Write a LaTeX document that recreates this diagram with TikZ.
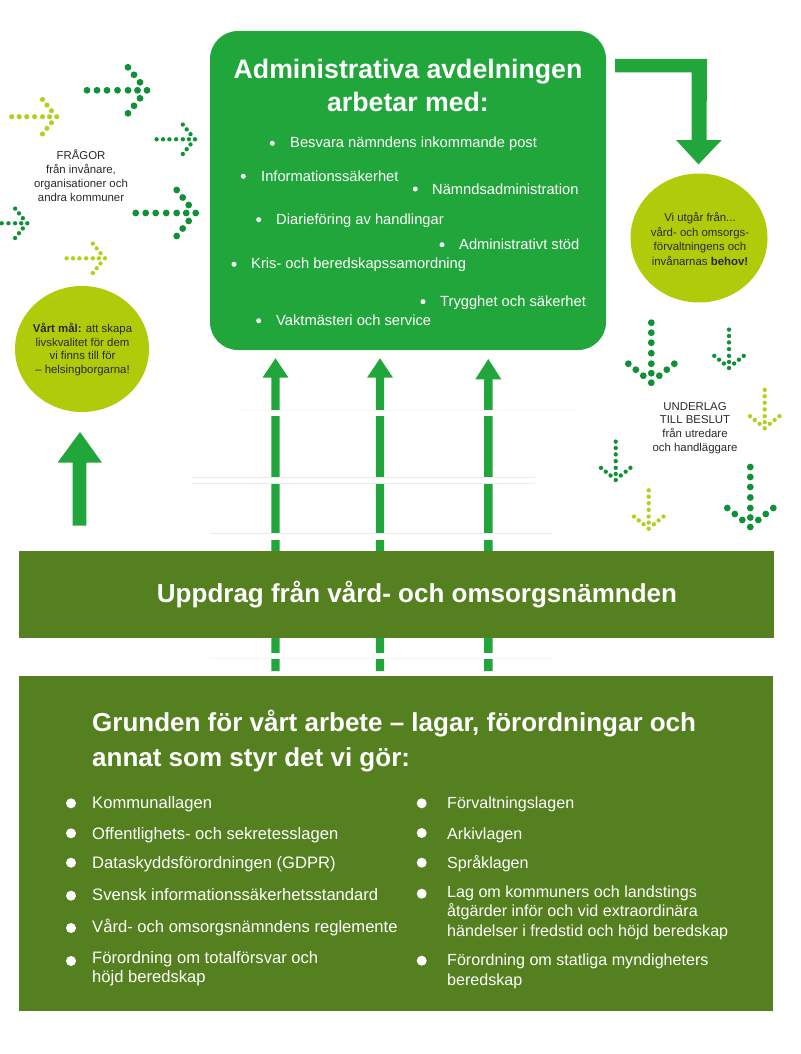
\documentclass[tikz,border=0pt]{standalone}
\usepackage{fontspec}
\usetikzlibrary{shapes.geometric}
\setmainfont{Liberation Sans}
\definecolor{mgreen}{HTML}{21A63B}
\definecolor{dgreen}{HTML}{0F9138}
\definecolor{lime}{HTML}{B0CB0A}
\definecolor{limedot}{HTML}{B5CF1E}
\definecolor{olive}{HTML}{55801F}
\definecolor{ink}{HTML}{2A2A2A}
\newcommand{\fs}[1]{\fontsize{#1}{#1}\selectfont}
% dot arrow: angle, tip x, tip y, scale, colour
\newcommand{\dotarrow}[5]{%
 \begin{scope}[shift={(#2,#3)},rotate=#1,scale=#4]
  \foreach \a/\b in {-60/0,-50/0,-40/0,-29.5/0,-19/0,-9.5/0,0/0,-19/-23,-13/-15.5,-7/-8,-7/8,-13/15.5,-19/23}
   \fill[#5] (\a,\b) circle (3.4);
 \end{scope}}
\tikzset{
 x=1pt,y=-1pt,
 main/.style={fill=mgreen,draw=none},
 bul/.style={fill=white,draw=none},
 item/.style={anchor=base west,inner sep=0pt,text=white,font=\fs{14.7}},
 law/.style={anchor=base west,inner sep=0pt,text=white,font=\fs{16.6},align=left},
 lawr/.style={anchor=base west,inner sep=0pt,text=white,font=\fs{16.1},align=left},
 small/.style={inner sep=0pt,text=ink,font=\fs{11.4},align=center},
}
\begin{document}
\begin{tikzpicture}
\useasboundingbox (0,0) rectangle (800,1054);
\fill[white] (0,0) rectangle (800,1054);

% vertical arrows (behind the gaps)
\foreach \n/\xx/\ty/\by in {a/275.5/358.3/377.7,b/380/358.3/377.7,c/488.3/359/379.3}{
 \fill[main] (\xx-4.2,671) -- (\xx-4.2,\by) -- (\xx-13,\by) -- (\xx,\ty) -- (\xx+13,\by) -- (\xx+4.2,\by) -- (\xx+4.2,671) -- cycle;
}
\fill[white] (236.7,410) rectangle (579,416);
\draw[black!3,line width=.5pt] (236.7,410) -- (579,410);
\fill[white] (192,477) rectangle (535,483);
\draw[black!8,line width=.5pt] (192,477) -- (535,477) (192,483) -- (535,483);
\fill[white] (210,533.5) rectangle (553,540);
\draw[black!8,line width=.5pt] (210,533.5) -- (553,533.5);
\fill[white] (210,652.7) rectangle (553,658.3);
\draw[black!4,line width=.5pt] (210,658.3) -- (553,658.3);

% main box
\node[main,rounded corners=28,minimum width=396,minimum height=319,inner sep=0pt] (adm) at (408,190.5) {};
\node[inner sep=0pt,text=white,font=\bfseries\fs{26.7},align=center] (admt) at (408,85.5) {Administrativa avdelningen\\[6pt]arbetar med:};

\foreach \bx/\by in {272.3/143.3,243.3/176.3,415.3/189,258.7/219.7,442/244.7,234/264.3,423/301.7,258.7/320.7}
 \fill[bul] (\bx,\by) circle (2.5);
\node[item] (i1) at (290,147.3) {Besvara nämndens inkommande post};
\node[item] (i2) at (261,181) {Informationssäkerhet};
\node[item] (i3) at (432,194) {Nämndsadministration};
\node[item] (i4) at (276,224.3) {Diarieföring av handlingar};
\node[item] (i5) at (459,249) {Administrativt stöd};
\node[item] (i6) at (251,268.3) {Kris- och beredskapssamordning};
\node[item] (i7) at (440,306) {Trygghet och säkerhet};
\node[item] (i8) at (276,325) {Vaktmästeri och service};

% bent arrow
\fill[main] (615,59) -- (707,59) -- (706.5,140) -- (721.7,140) -- (698.5,164.3) -- (676,140) -- (691.7,140) -- (691.7,72.3) -- (615,72.3) -- cycle;
% up arrow left
\fill[main] (72.5,525.7) -- (72.5,462.7) -- (57.5,462.7) -- (80,432) -- (102,462.7) -- (86.3,462.7) -- (86.3,525.7) -- cycle;

% circles
\node[ellipse,fill=lime,minimum width=134,minimum height=126,inner sep=0pt] (goalc) at (82,349) {};
\node[ellipse,fill=lime,minimum width=137,minimum height=129,inner sep=0pt] (needc) at (699,238) {};
\node[small] (goal) at (82.5,349.5) {\textbf{Vårt mål:} att skapa\\[2.4pt]livskvalitet för dem\\[2.4pt]vi finns till för\\[2.4pt]– helsingborgarna!};
\node[small] (need) at (700,239) {Vi utgår från...\\[2.4pt]vård- och omsorgs-\\[2.4pt]förvaltningens och\\[2.4pt]invånarnas \textbf{behov!}};

% dotted arrows
\dotarrow{0}{147}{90.3}{1}{dgreen}
\dotarrow{0}{195.7}{213}{1}{dgreen}
\dotarrow{0}{56.7}{116.7}{.75}{limedot}
\dotarrow{0}{195}{139.3}{.64}{dgreen}
\dotarrow{0}{27.3}{223.3}{.64}{dgreen}
\dotarrow{0}{105}{258.3}{.64}{limedot}
\dotarrow{-90}{651.3}{382.7}{1}{dgreen}
\dotarrow{-90}{750.3}{527}{1}{dgreen}
\dotarrow{-90}{729}{368}{.64}{dgreen}
\dotarrow{-90}{764.7}{428.3}{.64}{limedot}
\dotarrow{-90}{615.7}{480}{.64}{dgreen}
\dotarrow{-90}{648.7}{528.7}{.64}{limedot}

\node[small] (frag) at (81,175.5) {FRÅGOR\\[2.4pt]från invånare,\\[2.4pt]organisationer och\\[2.4pt]andra kommuner};
\node[small] (under) at (695,428) {UNDERLAG\\[2.4pt]TILL BESLUT\\[2.4pt]från utredare\\[2.4pt]och handläggare};

% band
\fill[olive] (19,551) rectangle (774,638);
\node[inner sep=0pt,text=white,font=\bfseries\fs{26}] (band) at (417,595) {Uppdrag från vård- och omsorgsnämnden};

% bottom box
\fill[olive] (19,676) rectangle (773,1011);
\node[anchor=base west,inner sep=0pt,text=white,font=\bfseries\fs{26},align=left] (h1) at (92,731) {Grunden för vårt arbete – lagar, förordningar och};
\node[anchor=base west,inner sep=0pt,text=white,font=\bfseries\fs{26},align=left] (h2) at (92,766) {annat som styr det vi gör:};

\foreach \bx/\by in {71/803.3,71/833.3,71/862.7,71/895.7,71/928,71/961,421.7/803.3,421.7/833,421.7/862.7,421.7/893.7,421.7/960.7}
 \fill[bul] (\bx,\by) circle (5);
\node[law] (l1) at (92,808) {Kommunallagen};
\node[law] (l2) at (92,839) {Offentlighets- och sekretesslagen};
\node[law] (l3) at (92,868) {Dataskyddsförordningen (GDPR)};
\node[law] (l4) at (92,900) {Svensk informationssäkerhetsstandard};
\node[law] (l5) at (92,932.3) {Vård- och omsorgsnämndens reglemente};
\node[law] (l6) at (92,963.3) {Förordning om totalförsvar och};
\node[law] (l6b) at (92,982.3) {höjd beredskap};
\node[lawr] (r1) at (447,808) {Förvaltningslagen};
\node[lawr] (r2) at (447,839) {Arkivlagen};
\node[lawr] (r3) at (447,868) {Språklagen};
\node[lawr] (r4) at (447,897.3) {Lag om kommuners och landstings};
\node[lawr] (r4b) at (447,916.7) {åtgärder inför och vid extraordinära};
\node[lawr] (r4c) at (447,936.7) {händelser i fredstid och höjd beredskap};
\node[lawr] (r5) at (447,965) {Förordning om statliga myndigheters};
\node[lawr] (r5b) at (447,985) {beredskap};
\end{tikzpicture}
\end{document}
